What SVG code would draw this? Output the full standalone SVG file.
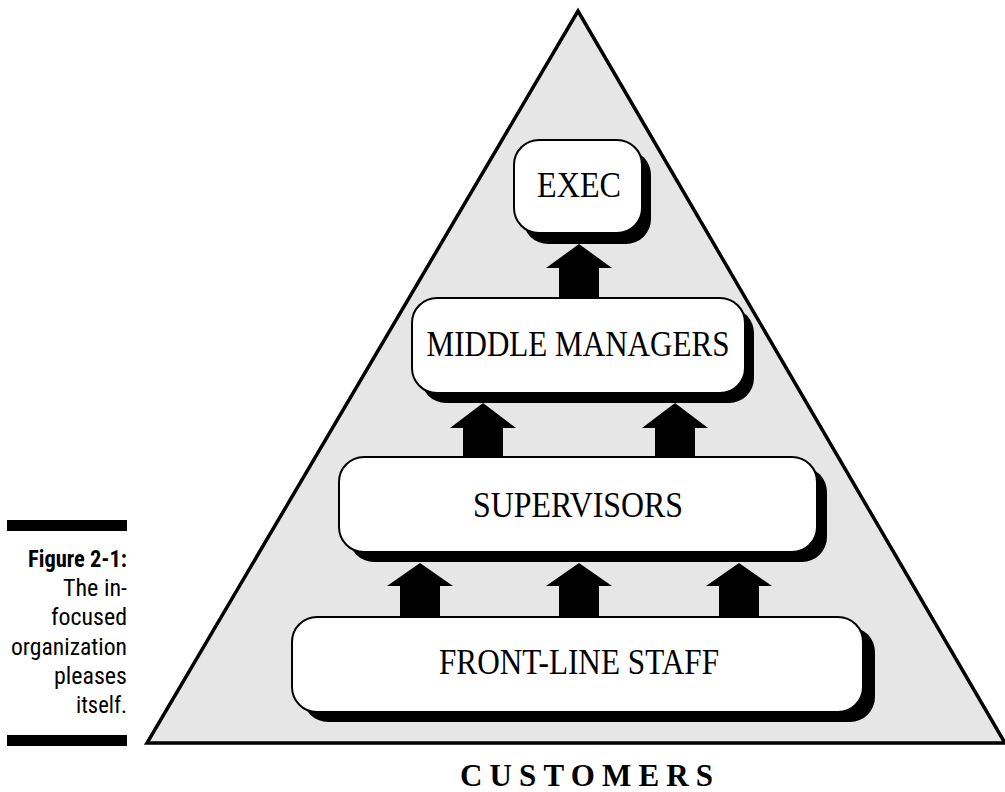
<svg xmlns="http://www.w3.org/2000/svg" width="1005" height="792" viewBox="0 0 1005 792">
<defs>
<style>
.box{fill:#fff;stroke:#000;stroke-width:2}
.shadow{fill:#000}
.lbl{font-family:"Liberation Serif","Times New Roman",serif;font-size:35px;fill:#000;text-anchor:middle}
.arrow{fill:#000}
.cap{font-family:"Liberation Sans Narrow","Roboto Condensed","Liberation Sans",sans-serif;font-size:23px;fill:#000}
</style>
</defs>
<rect width="1005" height="792" fill="#fff"/>
<g id="caption">
<rect x="7" y="520" width="120" height="11" fill="#000"/>
<rect x="7" y="735" width="120" height="11" fill="#000"/>
<text class="cap" x="28" y="567" font-weight="bold" textLength="99" lengthAdjust="spacingAndGlyphs">Figure 2-1:</text>
<text class="cap" x="63" y="596" textLength="64" lengthAdjust="spacingAndGlyphs">The in-</text>
<text class="cap" x="51" y="625" textLength="76" lengthAdjust="spacingAndGlyphs">focused</text>
<text class="cap" x="11" y="655" textLength="116" lengthAdjust="spacingAndGlyphs">organization</text>
<text class="cap" x="54" y="684" textLength="73" lengthAdjust="spacingAndGlyphs">pleases</text>
<text class="cap" x="76" y="713" textLength="51" lengthAdjust="spacingAndGlyphs">itself.</text>
</g>
<g id="customers">
<polygon points="578,11 147,743 1005,743" fill="#e6e6e6" stroke="#000" stroke-width="3.5" stroke-linejoin="miter"/>
<text x="460" y="786" font-family="'Liberation Serif','Times New Roman',serif" font-size="31" font-weight="bold" textLength="253" lengthAdjust="spacing">CUSTOMERS</text>
</g>
<g id="connectors">
<polygon class="arrow" points="579,244 612,268 599,268 599,298 559,298 559,268 546,268"/>
<polygon class="arrow" points="483,403 516,428 503,428 503,457 463,457 463,428 450,428"/>
<polygon class="arrow" points="675,403 708,428 695,428 695,457 655,457 655,428 642,428"/>
<polygon class="arrow" points="420,563 453,586 440,586 440,617 400,617 400,586 387,586"/>
<polygon class="arrow" points="579,563 612,586 599,586 599,617 559,617 559,586 546,586"/>
<polygon class="arrow" points="739,563 772,586 759,586 759,617 719,617 719,586 706,586"/>
</g>
<g id="exec">
<rect class="shadow" x="523" y="150" width="128" height="94" rx="25"/>
<rect class="box" x="514" y="140" width="128" height="93" rx="25"/>
<text class="lbl" x="579" y="197" textLength="84" lengthAdjust="spacingAndGlyphs">EXEC</text>
</g>
<g id="middle-managers">
<rect class="shadow" x="421" y="308" width="333" height="95" rx="25"/>
<rect class="box" x="412" y="298" width="333" height="95" rx="25"/>
<text class="lbl" x="578" y="356" textLength="303" lengthAdjust="spacingAndGlyphs">MIDDLE MANAGERS</text>
</g>
<g id="supervisors">
<rect class="shadow" x="349" y="467" width="478" height="95" rx="25"/>
<rect class="box" x="339" y="457" width="478" height="95" rx="25"/>
<text class="lbl" x="578" y="517" textLength="210" lengthAdjust="spacingAndGlyphs">SUPERVISORS</text>
</g>
<g id="front-line-staff">
<rect class="shadow" x="303" y="627" width="572" height="95" rx="25"/>
<rect class="box" x="292" y="617" width="571" height="95" rx="25"/>
<text class="lbl" x="579" y="674" textLength="280" lengthAdjust="spacingAndGlyphs">FRONT-LINE STAFF</text>
</g>
</svg>
